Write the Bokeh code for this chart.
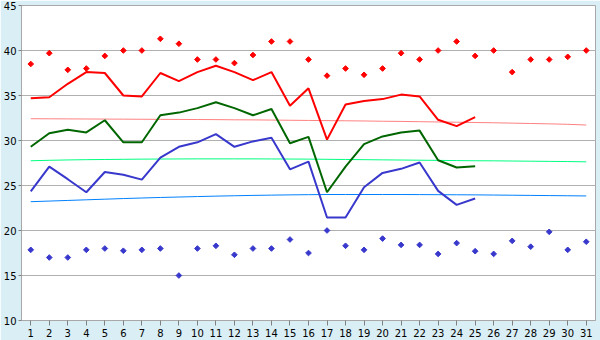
from math import pi
from bokeh.plotting import figure
from bokeh.models import FixedTicker, Range1d
from bokeh.embed import file_html
from bokeh.resources import INLINE

days = list(range(1, 32))
max_points = [38.5, 39.7, 37.85, 38.0, 39.4, 40.0, 40.0, 41.3, 40.75, 39.0, 39.0, 38.6, 39.5, 41.0, 41.0,
              39.0, 37.2, 38.0, 37.3, 38.0, 39.7, 39.0, 40.0, 41.0, 39.4, 40.0, 37.6, 39.0, 39.0, 39.3, 40.0]
min_points = [17.85, 17.0, 17.0, 17.85, 18.0, 17.75, 17.85, 18.0, 15.0, 18.0, 18.3, 17.3, 18.0, 18.0, 19.0,
              17.5, 20.0, 18.3, 17.85, 19.1, 18.4, 18.4, 17.4, 18.6, 17.7, 17.4, 18.85, 18.2, 19.85, 17.85, 18.75]
line_days = list(range(1, 26))
red_line = [34.7, 34.8, 36.3, 37.6, 37.5, 35.0, 34.9, 37.5, 36.6, 37.6, 38.3, 37.6, 36.7, 37.6, 33.85,
            35.8, 30.1, 34.0, 34.4, 34.6, 35.1, 34.9, 32.3, 31.6, 32.6]
green_line = [29.3, 30.8, 31.2, 30.9, 32.25, 29.8, 29.8, 32.8, 33.1, 33.6, 34.25, 33.6, 32.8, 33.5, 29.7,
              30.4, 24.25, 27.1, 29.6, 30.45, 30.9, 31.1, 27.8, 27.0, 27.15]
blue_line = [24.35, 27.1, 25.7, 24.25, 26.5, 26.2, 25.65, 28.1, 29.3, 29.8, 30.7, 29.3, 29.9, 30.3, 26.8,
             27.65, 21.45, 21.45, 24.8, 26.4, 26.85, 27.55, 24.4, 22.85, 23.55]
pink_trend = [32.42, 32.41, 32.40, 32.39, 32.38, 32.37, 32.36, 32.35, 32.34, 32.33, 32.32, 32.30, 32.29, 32.27,
              32.25, 32.23, 32.21, 32.19, 32.17, 32.14, 32.12, 32.09, 32.06, 32.03, 32.00, 31.97, 31.93, 31.89,
              31.85, 31.80, 31.72]
green_trend = [27.75, 27.80, 27.84, 27.87, 27.89, 27.91, 27.93, 27.94, 27.95, 27.96, 27.96, 27.96, 27.96, 27.95,
               27.94, 27.93, 27.91, 27.89, 27.87, 27.85, 27.83, 27.81, 27.79, 27.77, 27.75, 27.74, 27.72, 27.70,
               27.68, 27.66, 27.63]
blue_trend = [23.20, 23.27, 23.34, 23.41, 23.48, 23.55, 23.61, 23.67, 23.72, 23.77, 23.82, 23.86, 23.90, 23.93,
              23.96, 23.98, 24.00, 24.00, 24.00, 24.00, 24.00, 23.99, 23.98, 23.97, 23.96, 23.94, 23.92, 23.90,
              23.88, 23.86, 23.84]
y_ticks = [10, 15, 20, 25, 30, 35, 40, 45]

p = figure(width=600, height=340, output_backend="svg", toolbar_location=None,
           x_range=Range1d(0.5, 31.5), y_range=Range1d(10, 45))
p.min_border_left = 20
p.min_border_right = 5
p.min_border_top = 5
p.min_border_bottom = 20
p.border_fill_color = "#D9EEF5"
p.background_fill_color = "white"
p.outline_line_color = "#A8A8A8"
p.outline_line_width = 1

p.xgrid.grid_line_color = None
p.ygrid.grid_line_color = "#B0B0B0"
p.ygrid.grid_line_width = 1

p.xaxis.ticker = FixedTicker(ticks=days)
p.yaxis.ticker = FixedTicker(ticks=y_ticks)
for ax in (p.xaxis, p.yaxis):
    ax.axis_line_color = "#A8A8A8"
    ax.major_tick_line_color = "#808080"
    ax.minor_tick_line_color = None
    ax.major_tick_in = 0
    ax.major_label_text_font = "DejaVu Sans"
    ax.major_label_text_font_size = "10px"
    ax.major_label_text_color = "black"
p.xaxis.major_tick_out = 5
p.xaxis.major_label_standoff = 3
p.yaxis.major_tick_out = 3
p.yaxis.major_label_standoff = 2

p.line(days, pink_trend, line_color="#FF8080", line_width=1)
p.line(days, green_trend, line_color="#00FF80", line_width=1)
p.line(days, blue_trend, line_color="#0080FF", line_width=1)

p.line(line_days, red_line, line_color="#FF0000", line_width=2)
p.line(line_days, green_line, line_color="#006600", line_width=2)
p.line(line_days, blue_line, line_color="#3838CC", line_width=2)

p.scatter(days, max_points, marker="square", angle=pi / 4, size=4, fill_color="#FF0000", line_color="#FF0000")
p.scatter(days, min_points, marker="square", angle=pi / 4, size=4, fill_color="#3838CC", line_color="#3838CC")

open("out.html", "w").write(file_html(p, INLINE))
